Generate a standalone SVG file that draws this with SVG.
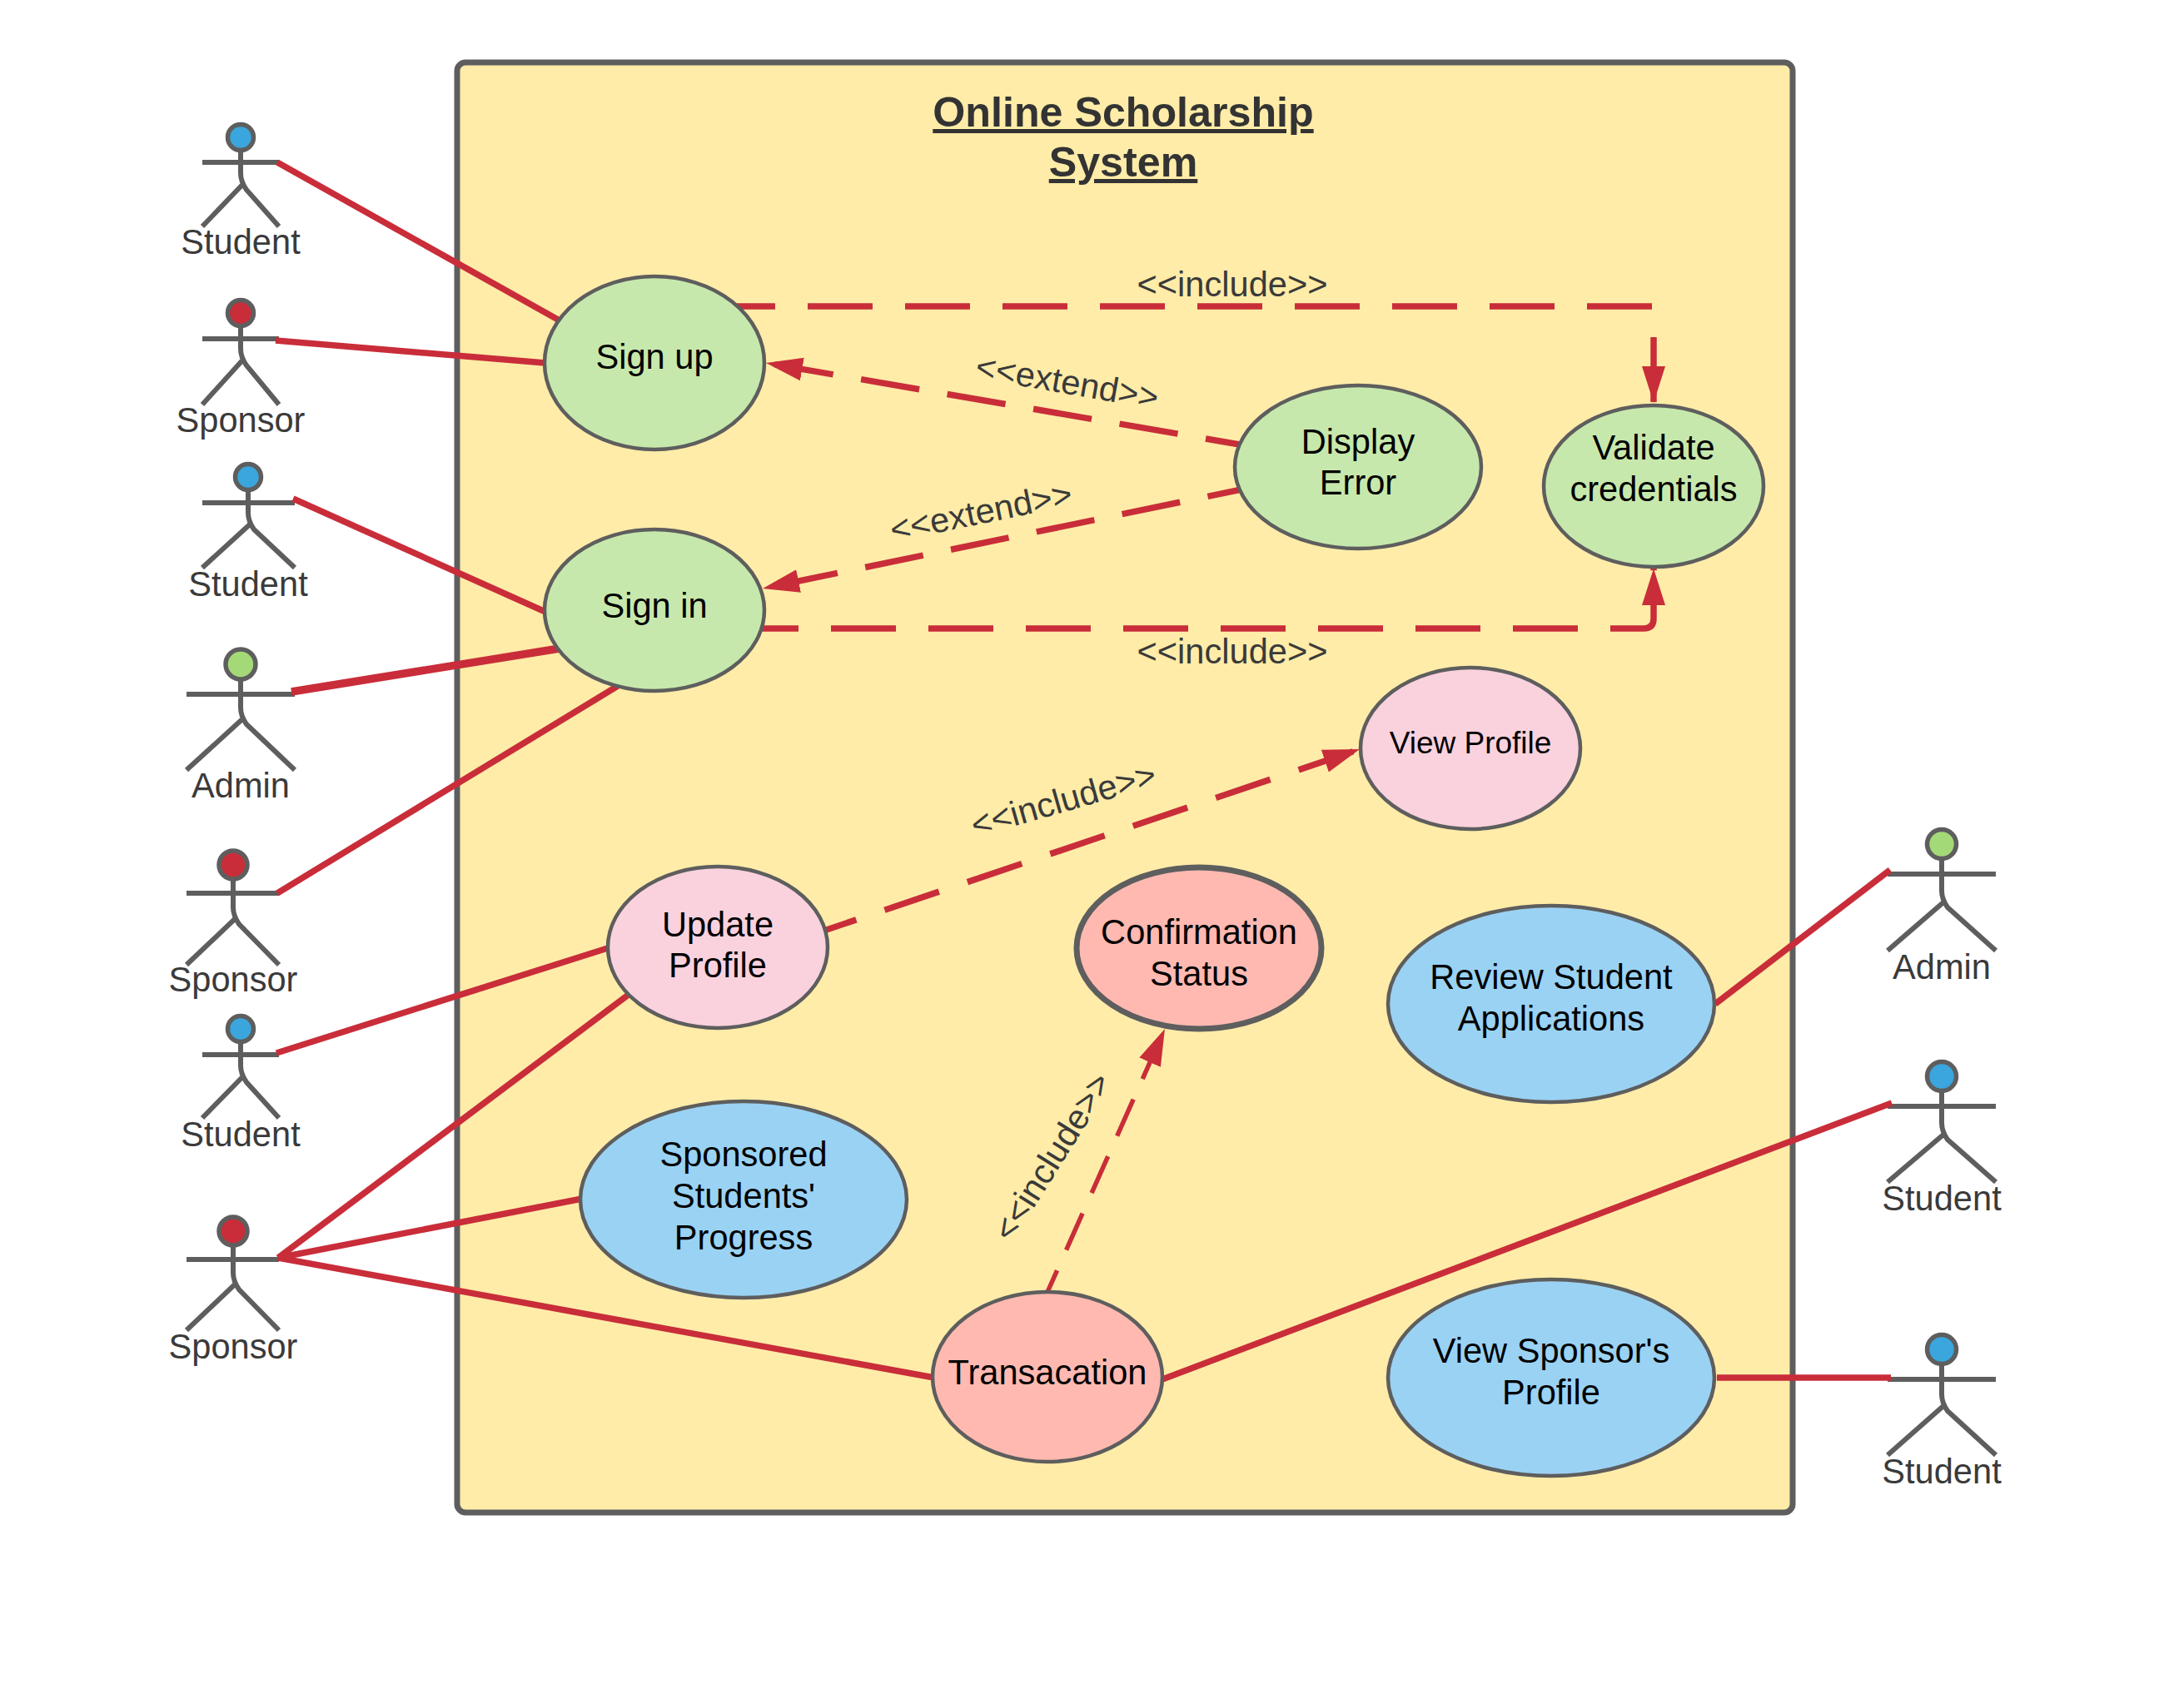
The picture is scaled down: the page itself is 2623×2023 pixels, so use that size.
<svg xmlns="http://www.w3.org/2000/svg" width="2623" height="2023" viewBox="0 0 2623 2023">
<style>
text{font-family:"Liberation Sans",Arial,sans-serif;font-size:41.6px;text-anchor:middle}
.t{fill:#000}
.a{fill:#3a3a3a}
.title{font-size:50.2px;font-weight:bold;fill:#333;text-decoration:underline}
.uc{stroke:#5e5e5e;stroke-width:4.5}
.g{fill:#c7e8ac}.p{fill:#f9d2de}.b{fill:#9ad2f4}.s{fill:#ffb9b1}
.fig{fill:none;stroke:#5e5e5e;stroke-width:6}
.hb{fill:#3aa6dd;stroke:#5e5e5e;stroke-width:5.5}
.hr{fill:#c92d39;stroke:#5e5e5e;stroke-width:5.5}
.hg{fill:#a3d977;stroke:#5e5e5e;stroke-width:5.5}
.c{fill:none;stroke:#c92d39;stroke-width:7.5}
.d{fill:none;stroke:#c92d39;stroke-width:7.5}
</style>
<defs>
<marker id="arrow" markerUnits="userSpaceOnUse" markerWidth="46" markerHeight="30" refX="44" refY="15" orient="auto"><path d="M0,1 L44,15 L0,29 Z" fill="#c92d39"/></marker>
</defs>
<rect id="frame" x="549" y="75" width="1604" height="1742" rx="10" fill="#ffeca8" stroke="#5e5e5e" stroke-width="7"/>
<text class="title" x="1349" y="152">Online Scholarship</text>
<text class="title" x="1349" y="212">System</text>

<g id="actor-student-1"><ellipse class="hb" cx="289" cy="165" rx="15.5" ry="15.5"/><path class="fig" d="M243,195H335M289,180V208Q289,218 296,228L335,272M291,222L243,272"/><text class="a" x="289" y="305">Student</text></g>
<g id="actor-sponsor-1"><ellipse class="hr" cx="289" cy="376" rx="15.5" ry="15.5"/><path class="fig" d="M243,407H335M289,391V419Q289,429 296,439L335,486M291,433L243,486"/><text class="a" x="289" y="519">Sponsor</text></g>
<g id="actor-student-2"><ellipse class="hb" cx="298" cy="573" rx="15.5" ry="15.5"/><path class="fig" d="M243,604H354M298,588V616Q298,626 305,636L354,682M300,630L243,682"/><text class="a" x="298" y="716">Student</text></g>
<g id="actor-admin-1"><ellipse class="hg" cx="289" cy="798" rx="18" ry="18"/><path class="fig" d="M224,834H354M289,816V850Q289,860 296,870L354,925M291,864L224,925"/><text class="a" x="289" y="958">Admin</text></g>
<g id="actor-sponsor-2"><ellipse class="hr" cx="280" cy="1039" rx="17" ry="17"/><path class="fig" d="M224,1073H335M280,1056V1090Q280,1100 287,1110L335,1159M282,1104L224,1159"/><text class="a" x="280" y="1191">Sponsor</text></g>
<g id="actor-student-3"><ellipse class="hb" cx="289" cy="1236" rx="15.5" ry="15.5"/><path class="fig" d="M243,1267H335M289,1251V1280Q289,1290 296,1300L335,1343M291,1294L243,1343"/><text class="a" x="289" y="1377">Student</text></g>
<g id="actor-sponsor-3"><ellipse class="hr" cx="280" cy="1479" rx="17" ry="17"/><path class="fig" d="M224,1513H335M280,1496V1529Q280,1539 287,1549L335,1598M282,1543L224,1598"/><text class="a" x="280" y="1632">Sponsor</text></g>
<g id="actor-admin-2"><ellipse class="hg" cx="2332" cy="1014" rx="17.5" ry="17.5"/><path class="fig" d="M2267,1050H2397M2332,1031V1070Q2332,1080 2339,1090L2397,1142M2334,1084L2267,1142"/><text class="a" x="2332" y="1176">Admin</text></g>
<g id="actor-student-4"><ellipse class="hb" cx="2332" cy="1293" rx="17.5" ry="17.5"/><path class="fig" d="M2267,1329H2397M2332,1310V1349Q2332,1359 2339,1369L2397,1420M2334,1363L2267,1420"/><text class="a" x="2332" y="1454">Student</text></g>
<g id="actor-student-5"><ellipse class="hb" cx="2332" cy="1621" rx="17.5" ry="17.5"/><path class="fig" d="M2267,1657H2397M2332,1638V1675Q2332,1685 2339,1695L2397,1748M2334,1689L2267,1748"/><text class="a" x="2332" y="1782">Student</text></g>

<g id="connectors">
<line class="c" x1="333" y1="195" x2="672" y2="385"/>
<line class="c" x1="331" y1="409" x2="655" y2="436"/>
<line class="c" x1="352" y1="599" x2="655" y2="735"/>
<line class="c" style="stroke-width:9.5" x1="350" y1="831" x2="672" y2="779"/>
<line class="c" x1="333" y1="1073" x2="742" y2="824"/>
<line class="c" x1="332" y1="1265" x2="733" y2="1138"/>
<line class="c" x1="334" y1="1511" x2="756" y2="1194"/>
<line class="c" x1="334" y1="1511" x2="699" y2="1440"/>
<line class="c" x1="334" y1="1511" x2="1122" y2="1655"/>
<line class="c" x1="2060" y1="1206" x2="2270" y2="1045"/>
<line class="c" x1="1396" y1="1657" x2="2272" y2="1325"/>
<line class="c" x1="2062" y1="1655" x2="2271" y2="1655"/>
<path class="d" stroke-dasharray="78 39" marker-end="url(#arrow)" d="M853,368H1986V484"/>
<path class="d" stroke-dasharray="78 39" marker-end="url(#arrow)" d="M881,755H1974Q1986,755 1986,743V683"/>
<path class="d" stroke-dasharray="71 34" marker-end="url(#arrow)" d="M1518,539L920,436"/>
<path class="d" stroke-dasharray="71 34" marker-end="url(#arrow)" d="M1520,582L916,707"/>
<path class="d" stroke-dasharray="69 36" marker-end="url(#arrow)" d="M963,1127L1633,900"/>
<path class="d" style="stroke-width:5.5" stroke-dasharray="48 27" marker-end="url(#arrow)" d="M1250,1570L1399,1236"/>
<text class="a" x="1480" y="356">&lt;&lt;include&gt;&gt;</text>
<text class="a" x="1480" y="797">&lt;&lt;include&gt;&gt;</text>
<text class="a" transform="translate(1282,458) rotate(10)" y="15">&lt;&lt;extend&gt;&gt;</text>
<text class="a" transform="translate(1178,614) rotate(-11.6)" y="15">&lt;&lt;extend&gt;&gt;</text>
<text class="a" transform="translate(1277,960) rotate(-16)" y="15">&lt;&lt;include&gt;&gt;</text>
<text class="a" transform="translate(1263,1389) rotate(-58)" y="15">&lt;&lt;include&gt;&gt;</text>
</g>

<g id="signup"><ellipse class="uc g" cx="786" cy="436" rx="132" ry="104"/><text class="t" x="786" y="443">Sign up</text></g>
<g id="signin"><ellipse class="uc g" cx="786" cy="733" rx="132" ry="97"/><text class="t" x="786" y="742">Sign in</text></g>
<g id="display-error"><ellipse class="uc g" cx="1631" cy="561" rx="148" ry="98"/><text class="t" x="1631" y="545">Display</text><text class="t" x="1631" y="594">Error</text></g>
<g id="validate"><ellipse class="uc g" cx="1986" cy="584" rx="132" ry="97"/><text class="t" x="1986" y="552">Validate</text><text class="t" x="1986" y="602">credentials</text></g>
<g id="view-profile"><ellipse class="uc p" cx="1766" cy="899" rx="132" ry="97"/><text class="t" style="font-size:37px" x="1766" y="905">View Profile</text></g>
<g id="update-profile"><ellipse class="uc p" cx="862" cy="1138" rx="132" ry="97"/><text class="t" x="862" y="1125">Update</text><text class="t" x="862" y="1174">Profile</text></g>
<g id="sponsored"><ellipse class="uc b" cx="893" cy="1441" rx="196" ry="118"/><text class="t" x="893" y="1401">Sponsored</text><text class="t" x="893" y="1451">Students'</text><text class="t" x="893" y="1501">Progress</text></g>
<g id="confirmation"><ellipse class="uc s" style="stroke-width:7" cx="1440" cy="1139" rx="147" ry="97"/><text class="t" x="1440" y="1134">Confirmation</text><text class="t" x="1440" y="1184">Status</text></g>
<g id="transaction"><ellipse class="uc s" cx="1258" cy="1654" rx="138" ry="102"/><text class="t" x="1258" y="1663">Transacation</text></g>
<g id="review"><ellipse class="uc b" cx="1863" cy="1206" rx="196" ry="118"/><text class="t" x="1863" y="1188">Review Student</text><text class="t" x="1863" y="1238">Applications</text></g>
<g id="view-sponsor"><ellipse class="uc b" cx="1863" cy="1655" rx="196" ry="118"/><text class="t" x="1863" y="1637">View Sponsor's</text><text class="t" x="1863" y="1687">Profile</text></g>
</svg>
